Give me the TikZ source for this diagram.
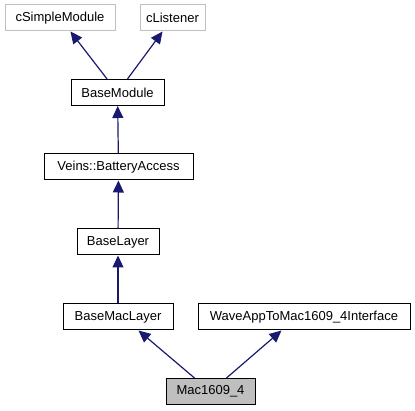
\documentclass[tikz,border=0pt]{standalone}
\usepackage{fontspec}
\setmainfont{Liberation Sans}
\usetikzlibrary{arrows.meta}
\definecolor{edgeblue}{HTML}{191970}
\definecolor{extgray}{HTML}{BFBFBF}
\begin{document}
\begin{tikzpicture}[
  x=1pt, y=-1pt,
  cls/.style={draw=black, fill=white, minimum height=26pt, inner sep=0pt,
              line width=1pt, font=\fontsize{13}{15}\selectfont},
  external/.style={cls, draw=extgray},
  current/.style={cls, fill=extgray},
  inherit/.style={draw=edgeblue, line width=1.2pt,
                  -{Triangle[length=12pt, width=11pt, fill=edgeblue]}},
]
  \useasboundingbox (0,0) rectangle (415,411);

  % external base classes
  \node[external, minimum width=110pt] (csimple) at (60,18) {cSimpleModule};
  \node[external, minimum width=65pt] (clistener) at (172.5,18) {cListener};

  % inheritance chain
  \node[cls, minimum width=93pt] (basemodule) at (117.5,92.5) {BaseModule};
  \node[cls, minimum width=149pt] (battery) at (118.5,167) {Veins::BatteryAccess};
  \node[cls, minimum width=82pt] (baselayer) at (118,242) {BaseLayer};
  \node[cls, minimum width=110pt] (basemac) at (118,317) {BaseMacLayer};
  \node[cls, minimum width=212pt] (waveif) at (304,317) {WaveAppToMac1609\_4Interface};
  \node[current, minimum width=89pt] (mac) at (210.5,391.5) {Mac1609\_4};

  % edges
  \draw[inherit] (basemodule) -- (csimple);
  \draw[inherit] (basemodule) -- (clistener);
  \draw[inherit] (battery) -- (basemodule);
  \draw[inherit] (baselayer) -- (battery);
  \draw[inherit] (basemac) -- (baselayer);
  \draw[inherit] ([xshift=29pt]mac.north west) -- ([xshift=-35pt]basemac.south east);
  \draw[inherit] ([xshift=-29pt]mac.north east) -- ([xshift=84pt]waveif.south west);
\end{tikzpicture}
\end{document}
